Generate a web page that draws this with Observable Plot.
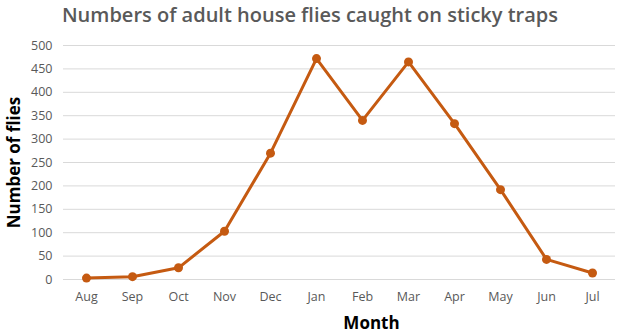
<!DOCTYPE html>
<html>
<head>
<meta charset="utf-8">
<script src="https://cdn.jsdelivr.net/npm/d3@7"></script>
<script src="https://cdn.jsdelivr.net/npm/@observablehq/plot@0.6"></script>
<style>
  html, body { margin: 0; padding: 0; background: #fff; }
  #wrap { width: 620px; height: 336px; position: relative; overflow: hidden; }
  #title { position: absolute; left: 0; top: 0; width: 620px; height: 32px; text-align: center;
    font-family: "Open Sans", sans-serif; font-weight: 600; font-size: 20px; color: #595959;
    line-height: 30px; padding-left: 0px; box-sizing: border-box; }
  #chart { position: absolute; left: 0; top: 32px; }
</style>
</head>
<body>
<div id="wrap">
  <div id="title">Numbers of adult house flies caught on sticky traps</div>
  <div id="chart"></div>
</div>
<script>
const months = ["Aug","Sep","Oct","Nov","Dec","Jan","Feb","Mar","Apr","May","Jun","Jul"];
const flies = [3, 6, 25, 103, 270, 472, 340, 465, 333, 192, 43, 14];
const yTicks = [0, 50, 100, 150, 200, 250, 300, 350, 400, 450, 500];

const data = months.map((m, i) => ({month: m, flies: flies[i]}));
const color = "#C55A11";

const plot = Plot.plot({
  width: 620,
  height: 304,
  marginTop: 13,
  marginBottom: 57,
  marginLeft: 63,
  marginRight: 5,
  style: {fontFamily: "'Open Sans', sans-serif", fontSize: "12px", color: "#595959", background: "#fff"},
  x: {type: "point", domain: months, padding: 0.5, label: null},
  y: {domain: [0, 500], ticks: yTicks, label: null},
  marks: [
    Plot.gridY(yTicks, {stroke: "#d9d9d9", strokeOpacity: 1, strokeWidth: 1}),
    Plot.axisY(yTicks, {tickSize: 0, tickPadding: 11, fontSize: 12.5, fill: "#595959"}),
    Plot.axisX(months, {tickSize: 0, tickPadding: 13, fontSize: 12.5, fill: "#595959"}),
    Plot.line(data, {x: "month", y: "flies", stroke: color, strokeWidth: 3}),
    Plot.dot(data, {x: "month", y: "flies", r: 4.5, fill: color, stroke: null}),
    Plot.text(["Month"], {frameAnchor: "bottom", dy: 49, dx: 32, text: d => d, fontSize: 17, fontWeight: "bold", fill: "#000"}),
    Plot.text(["Number of flies"], {frameAnchor: "left", textAnchor: "middle", dx: -49, rotate: -90, text: d => d, fontSize: 17, fontWeight: "bold", fill: "#000"})
  ]
});
document.getElementById("chart").appendChild(plot);
</script>
</body>
</html>
